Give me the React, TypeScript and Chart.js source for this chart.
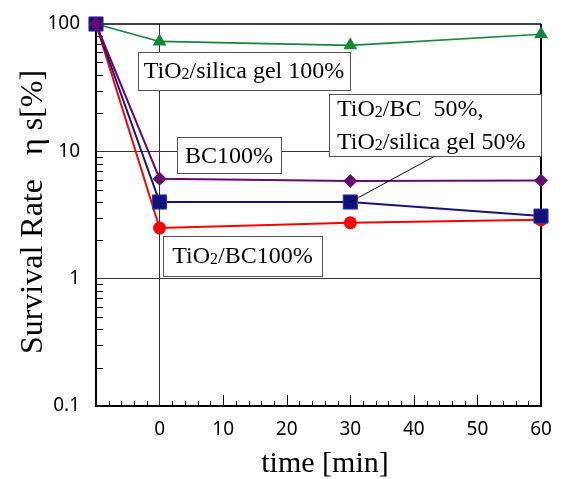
import React, { useEffect, useRef } from 'react';
import { Chart, registerables } from 'chart.js';

Chart.register(...registerables);

// ---- data ----
const times = [-10, 0, 30, 60];
const silicaGel100 = [100, 73, 68, 83];
const bc100 = [100, 6.1, 5.85, 5.9];
const mixed50 = [100, 4.0, 4.0, 3.1];
const tio2bc100 = [100, 2.5, 2.75, 2.9];
const xTickValues = [-10, 0, 10, 20, 30, 40, 50, 60];
const yTickValues = [0.1, 1, 10, 100];
const xTitle = 'time [min]';
const yTitle = 'Survival Rate   \u03b7 s[%]';

const SERIF = '"Liberation Serif", "Times New Roman", serif';
const SANS = '"Noto Sans", "Liberation Sans", sans-serif';

type Note = {
  lines: string[];
  left: number;
  top: number;
  width: number;
  height: number;
  baselines: number[];
  align: 'center' | 'left';
  padX: number;
};

const notes: Note[] = [
  { lines: ['TiO_2/silica gel 100%'], left: 138, top: 52, width: 212, height: 38, baselines: [26], align: 'center', padX: 0 },
  { lines: ['BC100%'], left: 177, top: 137, width: 104, height: 36, baselines: [26], align: 'center', padX: 0 },
  { lines: ['TiO_2/BC  50%,', 'TiO_2/silica gel 50%'], left: 329, top: 94, width: 212, height: 62, baselines: [22, 55], align: 'left', padX: 8 },
  { lines: ['TiO_2/BC100%'], left: 163, top: 236, width: 159, height: 40, baselines: [27], align: 'center', padX: 0 },
];

function segments(text: string) {
  const parts = text.split(/(_\d)/).filter((p) => p.length);
  return parts.map((p) => (p.startsWith('_') ? { t: p.slice(1), sub: true } : { t: p, sub: false }));
}

function richWidth(ctx: CanvasRenderingContext2D, text: string, size: number) {
  let w = 0;
  for (const s of segments(text)) {
    ctx.font = `${s.sub ? Math.round(size * 0.68) : size}px ${SERIF}`;
    w += ctx.measureText(s.t).width;
  }
  return w;
}

function drawRich(ctx: CanvasRenderingContext2D, text: string, x: number, y: number, size: number) {
  let cx = x;
  ctx.textAlign = 'left';
  ctx.textBaseline = 'alphabetic';
  for (const s of segments(text)) {
    ctx.font = `${s.sub ? Math.round(size * 0.68) : size}px ${SERIF}`;
    ctx.fillText(s.t, cx, y + (s.sub ? 1 : 0));
    cx += ctx.measureText(s.t).width;
  }
}

const framePlugin = {
  id: 'frameAndTicks',
  beforeDatasetsDraw(chart: any) {
    const { ctx, chartArea } = chart;
    const { left, right, top, bottom } = chartArea;
    const xs = chart.scales.x;
    const ys = chart.scales.y;
    ctx.save();
    ctx.strokeStyle = '#000';
    ctx.lineWidth = 1;
    // minor ticks on the log axis (inside)
    for (let d = 0; d < yTickValues.length - 1; d++) {
      const base = yTickValues[d];
      for (let m = 2; m <= 9; m++) {
        const py = Math.round(ys.getPixelForValue(base * m)) + 0.5;
        ctx.beginPath();
        ctx.moveTo(left, py);
        ctx.lineTo(left + 7, py);
        ctx.stroke();
      }
    }
    // x ticks (inside)
    for (let v = xTickValues[0]; v <= xTickValues[xTickValues.length - 1]; v += 2) {
      const px = Math.round(xs.getPixelForValue(v)) + 0.5;
      const major = v % 10 === 0;
      if (v === -10 || v === 0 || v === 60) continue;
      ctx.beginPath();
      ctx.moveTo(px, bottom);
      ctx.lineTo(px, bottom - (major ? 11 : 5));
      ctx.stroke();
    }
    // top & right frame
    ctx.lineWidth = 1.5;
    ctx.beginPath();
    ctx.moveTo(left, top);
    ctx.lineTo(right, top);
    ctx.stroke();
    ctx.lineWidth = 2;
    ctx.beginPath();
    ctx.moveTo(right, top);
    ctx.lineTo(right, bottom);
    ctx.stroke();
    ctx.restore();
  },
  afterDatasetsDraw(chart: any) {
    const { ctx } = chart;
    const xs = chart.scales.x;
    const ys = chart.scales.y;
    ctx.save();
    // leader line from the 50% box to the square at 30 min
    ctx.strokeStyle = '#000';
    ctx.lineWidth = 1;
    ctx.beginPath();
    ctx.moveTo(435, 156);
    ctx.lineTo(xs.getPixelForValue(times[2]), ys.getPixelForValue(mixed50[2]));
    ctx.stroke();
    for (const n of notes) {
      ctx.fillStyle = '#fff';
      ctx.fillRect(n.left, n.top, n.width, n.height);
      ctx.strokeStyle = '#555';
      ctx.lineWidth = 1;
      ctx.strokeRect(n.left + 0.5, n.top + 0.5, n.width, n.height);
      ctx.fillStyle = '#000';
      n.lines.forEach((line, i) => {
        const w = richWidth(ctx, line, 24);
        const x = n.align === 'center' ? n.left + (n.width - w) / 2 : n.left + n.padX;
        drawRich(ctx, line, x, n.top + n.baselines[i], 24);
      });
    }
    // axis titles
    ctx.fillStyle = '#000';
    ctx.font = `30px ${SERIF}`;
    ctx.textAlign = 'center';
    ctx.textBaseline = 'alphabetic';
    ctx.fillText(xTitle, 325, 472);
    ctx.save();
    ctx.translate(42, 212);
    ctx.rotate(-Math.PI / 2);
    ctx.font = `32px ${SERIF}`;
    ctx.fillText(yTitle, 0, 0);
    ctx.restore();
    ctx.restore();
  },
};

export default function App() {
  const ref = useRef<HTMLCanvasElement | null>(null);
  useEffect(() => {
    if (!ref.current) return;
    const mk = (data: number[]) => times.map((t, i) => ({ x: t, y: data[i] }));
    const chart = new Chart(ref.current, {
      type: 'line',
      data: {
        datasets: [
          { label: 'BC100%', data: mk(bc100), borderColor: '#660a6e', backgroundColor: '#660a6e', borderWidth: 2, pointStyle: 'rectRot', pointRadius: 7, pointBorderWidth: 0, clip: false },
          { label: 'TiO2/BC 50%, TiO2/silica gel 50%', data: mk(mixed50), borderColor: '#16127e', backgroundColor: '#10107a', pointBorderColor: '#3a36a0', borderWidth: 2, pointStyle: 'rect', pointRadius: 10, pointBorderWidth: 1, clip: false },
          { label: 'TiO2/silica gel 100%', data: mk(silicaGel100), borderColor: '#13883a', backgroundColor: '#13883a', borderWidth: 1.6, pointStyle: 'triangle', pointRadius: 8, pointBorderWidth: 0, clip: false },
          { label: 'TiO2/BC100%', data: mk(tio2bc100), borderColor: '#ff0000', backgroundColor: '#ff0000', borderWidth: 2, pointStyle: 'circle', pointRadius: 6.5, pointBorderWidth: 0, clip: false },
        ],
      },
      options: {
        responsive: false,
        maintainAspectRatio: false,
        animation: false,
        events: [],
        layout: { padding: { left: 0, top: 24, right: 24, bottom: 0 } },
        plugins: { legend: { display: false }, tooltip: { enabled: false }, title: { display: false } },
        scales: {
          x: {
            type: 'linear',
            min: -10,
            max: 60,
            afterBuildTicks: (scale: any) => {
              scale.ticks = xTickValues.map((v) => ({ value: v }));
            },
            afterFit: (scale: any) => {
              scale.height = 73;
              scale.paddingLeft = 0;
              scale.paddingRight = 0;
            },
            ticks: {
              autoSkip: false,
              maxRotation: 0,
              padding: 12,
              color: '#000',
              font: { family: SANS, size: 19 },
              callback: (v: any) => (Number(v) === -10 ? '' : String(v)),
            },
            grid: {
              drawTicks: false,
              lineWidth: 1,
              color: (c: any) => (c.tick && c.tick.value === 0 ? '#333' : 'rgba(0,0,0,0)'),
            },
            border: { display: true, color: '#000', width: 2 },
          },
          y: {
            type: 'logarithmic',
            min: 0.1,
            max: 100,
            afterBuildTicks: (scale: any) => {
              scale.ticks = yTickValues.map((v) => ({ value: v, major: true }));
            },
            afterFit: (scale: any) => {
              scale.width = 96;
              scale.paddingTop = 0;
              scale.paddingBottom = 0;
            },
            ticks: {
              autoSkip: false,
              padding: 16,
              color: '#000',
              font: { family: SANS, size: 19 },
              callback: (v: any) => String(v),
            },
            grid: {
              drawTicks: false,
              lineWidth: 1,
              color: (c: any) =>
                c.tick && (c.tick.value === 1 || c.tick.value === 10) ? '#333' : 'rgba(0,0,0,0)',
            },
            border: { display: true, color: '#000', width: 2 },
          },
        },
      },
      plugins: [framePlugin],
    });
    return () => chart.destroy();
  }, []);
  return (
    <div style={{ position: 'absolute', left: 0, top: 0, width: 565, height: 479, background: '#fff' }}>
      <canvas ref={ref} width={565} height={479} style={{ display: 'block' }} />
    </div>
  );
}
